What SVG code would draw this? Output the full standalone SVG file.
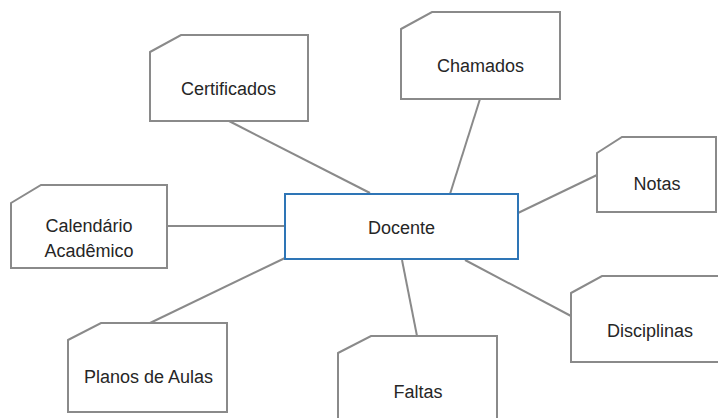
<svg xmlns="http://www.w3.org/2000/svg" width="718" height="418" viewBox="0 0 718 418">
<style>
.n{fill:#fff;stroke:#8a8a8a;stroke-width:2}
.c{fill:#fff;stroke:#2e75b6;stroke-width:2}
.t{font-family:"Liberation Sans",Arial,sans-serif;font-size:18px;fill:#262626;text-anchor:middle}
.e{stroke:#8a8a8a;stroke-width:2;fill:none}
</style>
<rect width="718" height="418" fill="#fff"/>
<g id="connectors">
<line class="e" x1="229" y1="121" x2="370" y2="193"/>
<line class="e" x1="480" y1="99" x2="450" y2="194"/>
<line class="e" x1="597" y1="175" x2="518" y2="213"/>
<line class="e" x1="167" y1="226" x2="285" y2="226"/>
<line class="e" x1="150" y1="323" x2="285" y2="258"/>
<line class="e" x1="402" y1="260" x2="417" y2="336"/>
<line class="e" x1="465" y1="260" x2="571" y2="316"/>
</g>
<g id="certificados">
<path class="n" d="M150,52 L181,35 L308,35 L308,121 L150,121 Z"/>
<text class="t" x="228.5" y="95">Certificados</text>
</g>
<g id="chamados">
<path class="n" d="M401,29 L432,12 L560,12 L560,99 L401,99 Z"/>
<text class="t" x="480.5" y="72">Chamados</text>
</g>
<g id="notas">
<path class="n" d="M597,153 L622,137 L716,137 L716,212 L597,212 Z"/>
<text class="t" x="657" y="190">Notas</text>
</g>
<g id="calendario">
<path class="n" d="M11,203 L41,185 L167,185 L167,268 L11,268 Z"/>
<text class="t" x="89" y="232">Calendário</text>
<text class="t" x="89" y="257">Acadêmico</text>
</g>
<g id="docente">
<rect class="c" x="285" y="194" width="233" height="65"/>
<text class="t" x="401.5" y="234">Docente</text>
</g>
<g id="planos">
<path class="n" d="M68,340 L101,323 L227,323 L227,412 L68,412 Z"/>
<text class="t" x="148.5" y="383">Planos de Aulas</text>
</g>
<g id="faltas">
<path class="n" d="M338,353 L371,336 L497,336 L497,430 L338,430 Z"/>
<text class="t" x="418" y="398">Faltas</text>
</g>
<g id="disciplinas">
<path class="n" d="M571,293 L602,276 L730,276 L730,362 L571,362 Z"/>
<text class="t" x="650" y="337">Disciplinas</text>
</g>
</svg>
